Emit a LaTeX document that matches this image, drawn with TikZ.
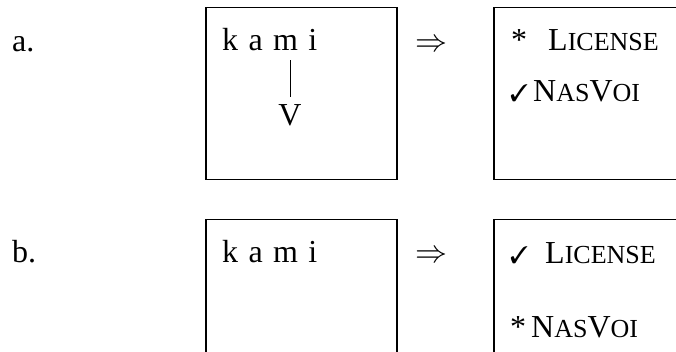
\RequirePackage{fix-cm}
\documentclass[tikz,border=0pt]{standalone}
\usepackage{fontspec}
\setmainfont{Liberation Serif}
\usepackage{pifont}
\usetikzlibrary{positioning}
\newcommand{\fakesc}[1]{{\fontsize{26}{26}\selectfont #1}}
\newcommand{\okmark}{{\fontsize{24}{24}\selectfont\ding{51}}}

\begin{document}
\begin{tikzpicture}[x=1pt, y=-1pt,
    txt/.style={inner sep=0pt, anchor=base west, font=\fontsize{32}{32}\selectfont},
    seg/.style={txt},
    box/.style={draw, line width=1.5pt, minimum width=191pt, minimum height=172pt, anchor=north west, inner sep=0pt},
    assoc/.style={line width=1pt, shorten <=9pt, shorten >=8pt}]
\clip (0,0) rectangle (676,352);
% row a
\node[txt] (labA) at (12,52) {a.};
\node[box] (inA) at (205,7) {};
\node[seg] (kA) at (222,51) {k};
\node[seg, base right=10pt of kA] (aA) {a};
\node[seg, base right=10pt of aA] (mA) {m};
\node[seg, base right=10pt of mA] (iA) {i};
\node[txt, anchor=base] (vA) at (290,126) {V};
\draw[assoc] (mA.south -| vA.north) -- (vA.north);
\node[txt] (arrA) at (415,52) {$\Rightarrow$};
\node[box] (outA) at (493,7) {};
\node[txt] (starA) at (511,51) {*};
\node[txt] (licA) at (548,51) {L\fakesc{ICENSE}};
\node[txt] (okA) at (510,102) {\okmark};
\node[txt] (nasA) at (533,102) {N\fakesc{AS}V\fakesc{OI}};
% row b
\node[txt] (labB) at (12,262) {b.};
\node[box] (inB) at (205,219) {};
\node[seg] (kB) at (222,262) {k};
\node[seg, base right=10pt of kB] (aB) {a};
\node[seg, base right=10pt of aB] (mB) {m};
\node[seg, base right=10pt of mB] (iB) {i};
\node[txt] (arrB) at (415,262) {$\Rightarrow$};
\node[box] (outB) at (493,219) {};
\node[txt] (okB) at (510,263) {\okmark};
\node[txt] (licB) at (545,263) {L\fakesc{ICENSE}};
\node[txt] (starB) at (510,337) {*};
\node[txt] (nasB) at (531,337) {N\fakesc{AS}V\fakesc{OI}};
\end{tikzpicture}
\end{document}
